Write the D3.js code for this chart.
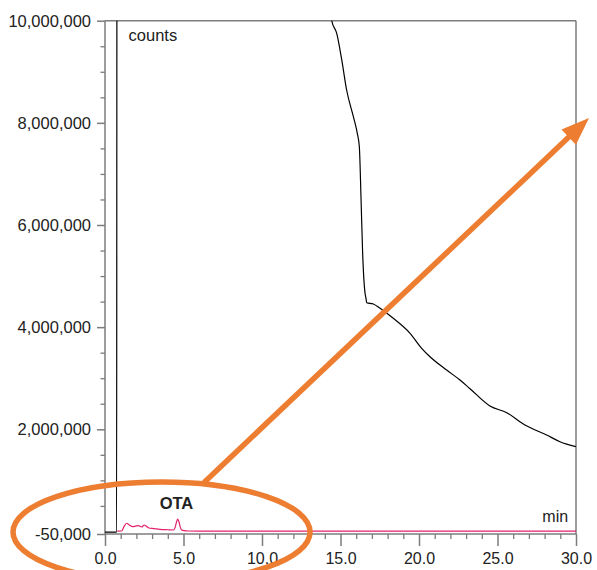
<!DOCTYPE html>
<html>
<head>
<meta charset="utf-8">
<script src="https://cdn.jsdelivr.net/npm/d3@7"></script>
<style>
  html, body { margin: 0; padding: 0; background: #fff; }
  svg { display: block; font-family: "Liberation Sans", Arial, sans-serif; }
</style>
</head>
<body>
<svg id="chart" width="597" height="570"></svg>
<script>
// Retention time axis (min)
const xMajorTicks = [0, 5, 10, 15, 20, 25, 30];
const xTickLabels = ["0.0", "5.0", "10.0", "15.0", "20.0", "25.0", "30.0"];
// Signal axis (counts)
const yMajorTicks = [-50000, 2000000, 4000000, 6000000, 8000000, 10000000];
const yTickLabels = ["-50,000", "2,000,000", "4,000,000", "6,000,000", "8,000,000", "10,000,000"];

// Total ion trace (black); values above the axis top are clipped
const ticTime = [0, 0.74, 0.76, 14.2, 14.44, 14.76, 15.08, 15.39, 15.82, 16.07, 16.2, 16.31, 16.41,
  16.56, 16.62, 16.67, 17.09, 17.52, 18.36, 19.43, 20.17, 20.7, 21.76, 22.61, 23.25,
  24.52, 25.59, 26.75, 28.13, 28.98, 30];
const ticCounts = [-15000, -15000, 10600000, 10600000, 10000000, 9753000, 9231000, 8643000, 8120000,
  7795000, 7533000, 6494000, 5452000, 4672000, 4570000, 4479000, 4453000, 4369000, 4173000,
  3880000, 3586000, 3421000, 3161000, 2965000, 2795000, 2456000, 2325000, 2085000,
  1888000, 1757000, 1659000];

// OTA trace (magenta)
const otaTime = [0.78, 1.06, 1.2, 1.38, 1.55, 1.76, 1.95, 2.12, 2.34, 2.5, 2.62, 2.76, 3.1, 3.5,
  4.0, 4.35, 4.47, 4.56, 4.63, 4.71, 4.8, 4.89, 5.05, 5.3, 6.0, 8.0, 12, 20, 30];
const otaCounts = [5000, 9000, 90000, 160000, 125000, 93000, 105000, 113000, 87000, 126000,
  105000, 73000, 55000, 42000, 33000, 28000, 80000, 190000, 240000, 190000, 80000, 28000, 15000,
  9000, 6000, 5000, 5000, 5000, 5000];

const svg = d3.select("#chart");
const axisColor = "#7c7c7c";
const textColor = "#222";

const x = d3.scaleLinear().domain([0, 30]).range([105, 576]);
const y = d3.scaleLinear().domain([-50000, 10000000]).range([534, 20.7]);

const [x0, x1] = x.range();
const [yB, yT] = y.range();

// Plot clip
svg.append("defs").append("clipPath").attr("id", "plotClip")
  .append("rect").attr("x", x0).attr("y", yT).attr("width", x1 - x0).attr("height", yB - yT);

// Minor ticks
const yMinor = d3.range(500000, 10000000, 500000).filter(v => v % 2000000 !== 0);
svg.append("g").attr("transform", `translate(${x0},0)`)
  .call(d3.axisLeft(y).tickValues(yMinor).tickSize(4.5).tickFormat(""))
  .call(g => g.select(".domain").remove())
  .call(g => g.selectAll("line").attr("stroke", axisColor).attr("stroke-width", 1.3));

const xMinor = d3.range(1, 30, 1).filter(v => v % 5 !== 0);
svg.append("g").attr("transform", `translate(0,${yB})`)
  .call(d3.axisBottom(x).tickValues(xMinor).tickSize(5).tickFormat(""))
  .call(g => g.select(".domain").remove())
  .call(g => g.selectAll("line").attr("stroke", axisColor).attr("stroke-width", 1.3));

// Major ticks + labels
svg.append("g").attr("transform", `translate(${x0},0)`)
  .call(d3.axisLeft(y).tickValues(yMajorTicks).tickSize(8).tickPadding(6)
    .tickFormat((d, i) => yTickLabels[i]))
  .call(g => g.select(".domain").remove())
  .call(g => g.selectAll("line").attr("stroke", axisColor).attr("stroke-width", 1.5))
  .call(g => g.selectAll("text").attr("fill", textColor).attr("font-size", 16.5)
    .attr("font-family", "Liberation Sans, Arial, sans-serif").attr("dy", "0.34em"));

svg.append("g").attr("transform", `translate(0,${yB})`)
  .call(d3.axisBottom(x).tickValues(xMajorTicks).tickSize(12).tickPadding(6)
    .tickFormat((d, i) => xTickLabels[i]))
  .call(g => g.select(".domain").remove())
  .call(g => g.selectAll("line").attr("stroke", axisColor).attr("stroke-width", 1.5))
  .call(g => g.selectAll("text").attr("fill", textColor).attr("font-size", 16)
    .attr("font-family", "Liberation Sans, Arial, sans-serif").attr("dy", "0.72em"));

// Frame
const frame = svg.append("g").attr("stroke", axisColor).attr("stroke-width", 1.5).attr("fill", "none");
frame.append("line").attr("x1", x0).attr("x2", x0).attr("y1", yT).attr("y2", yB);
frame.append("line").attr("x1", x0).attr("x2", x1).attr("y1", yT).attr("y2", yT);
frame.append("line").attr("x1", x1).attr("x2", x1).attr("y1", yT).attr("y2", yB);
frame.append("line").attr("x1", x0).attr("x2", x1).attr("y1", yB).attr("y2", yB);

// Traces
const plot = svg.append("g").attr("clip-path", "url(#plotClip)");
const line = d3.line().x(d => x(d[0])).y(d => y(d[1])).curve(d3.curveMonotoneX);

plot.append("path")
  .datum(otaTime.map((t, i) => [t, otaCounts[i]]))
  .attr("fill", "none").attr("stroke", "#e3206c").attr("stroke-width", 1.2)
  .attr("d", line);

plot.append("path")
  .datum(ticTime.map((t, i) => [t, ticCounts[i]]))
  .attr("fill", "none").attr("stroke", "#000").attr("stroke-width", 1.2)
  .attr("d", line);

// Axis titles and peak label
svg.append("text").attr("x", x(1.5)).attr("y", y(9600000))
  .attr("font-size", 16.5).attr("fill", textColor).text("counts");
svg.append("text").attr("x", x(29.5)).attr("y", y(180000))
  .attr("text-anchor", "end").attr("font-size", 16).attr("fill", textColor).text("min");
svg.append("text").attr("x", x(4.55)).attr("y", y(440000))
  .attr("text-anchor", "middle").attr("font-size", 16.5).attr("font-weight", "bold")
  .attr("fill", textColor).text("OTA");

// Callout: ellipse round the OTA region and arrow toward the full trace
const orange = "#ed7d31";
const ell = { t: 3.6, c: -10000, rt: 9.46, rc: 980000 };
svg.append("ellipse")
  .attr("cx", x(ell.t)).attr("cy", y(ell.c))
  .attr("rx", x(ell.rt) - x(0)).attr("ry", y(0) - y(ell.rc))
  .attr("fill", "none").attr("stroke", orange).attr("stroke-width", 5.5);

const from = [x(6.31), y(960000)];
const tip = [x(30.83), y(8095000)];
const dx = tip[0] - from[0], dy = tip[1] - from[1];
const len = Math.hypot(dx, dy);
const ux = dx / len, uy = dy / len;
const headLen = 28, headHalf = 10.5;
const base = [tip[0] - ux * headLen, tip[1] - uy * headLen];
svg.append("line")
  .attr("x1", from[0]).attr("y1", from[1])
  .attr("x2", base[0] + ux * 2).attr("y2", base[1] + uy * 2)
  .attr("stroke", orange).attr("stroke-width", 5.5);
svg.append("polygon")
  .attr("points", [
    tip,
    [base[0] - uy * headHalf, base[1] + ux * headHalf],
    [base[0] + uy * headHalf, base[1] - ux * headHalf]
  ].map(p => p.join(",")).join(" "))
  .attr("fill", orange);
</script>
</body>
</html>
